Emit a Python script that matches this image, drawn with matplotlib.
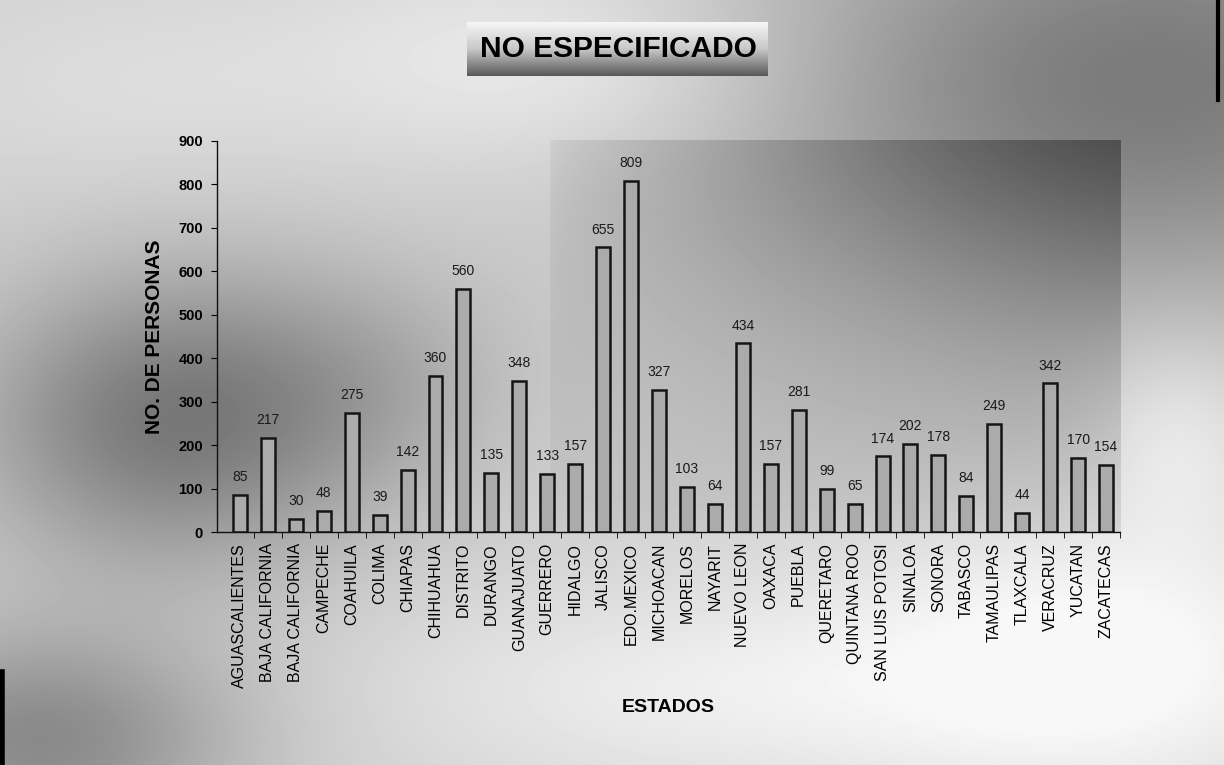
import numpy as np
import matplotlib
matplotlib.use("Agg")
import matplotlib.pyplot as plt
from matplotlib.colors import LinearSegmentedColormap

estados = ["AGUASCALIENTES", "BAJA CALIFORNIA", "BAJA CALIFORNIA", "CAMPECHE",
           "COAHUILA", "COLIMA", "CHIAPAS", "CHIHUAHUA", "DISTRITO", "DURANGO",
           "GUANAJUATO", "GUERRERO", "HIDALGO", "JALISCO", "EDO.MEXICO",
           "MICHOACAN", "MORELOS", "NAYARIT", "NUEVO LEON", "OAXACA", "PUEBLA",
           "QUERETARO", "QUINTANA ROO", "SAN LUIS POTOSI", "SINALOA", "SONORA",
           "TABASCO", "TAMAULIPAS", "TLAXCALA", "VERACRUZ", "YUCATAN", "ZACATECAS"]
personas = [85, 217, 30, 48, 275, 39, 142, 360, 560, 135, 348, 133, 157, 655,
            809, 327, 103, 64, 434, 157, 281, 99, 65, 174, 202, 178, 84, 249,
            44, 342, 170, 154]
y_ticks = [0, 100, 200, 300, 400, 500, 600, 700, 800, 900]

plt.rcParams['font.family'] = ['Liberation Sans', 'DejaVu Sans']

W, H = 1224, 765
fig = plt.figure(figsize=(W / 100, H / 100), dpi=100)

# Cloudy grey backdrop made from smooth light/dark patches
yy, xx = np.mgrid[0:H, 0:W].astype(float)


def blob(cx, cy, sx, sy, amp):
    return amp * np.exp(-(((xx - cx) / sx) ** 2 + ((yy - cy) / sy) ** 2))


shade = np.full((H, W), 0.82)
shade += blob(170, 420, 200, 150, -0.34)
shade += blob(380, 380, 150, 120, -0.10)
shade += blob(1150, 80, 420, 230, -0.34)
shade += blob(560, 60, 260, 110, 0.12)
shade += blob(700, 690, 320, 110, 0.10)
shade += blob(1100, 660, 260, 150, 0.16)
shade += blob(40, 740, 200, 110, -0.28)
shade += blob(120, 90, 200, 100, 0.04)
shade += blob(1180, 430, 90, 110, 0.10)

# slightly darker panel behind the right half of the plot area
panel = (xx >= 550) & (xx <= 1120) & (yy >= 140) & (yy <= 532)
panel_tone = -0.16 * np.clip((xx - 550) / 570, 0, 1) ** 0.5 * np.clip(1 - (yy - 140) / 560, 0, 1)
shade += np.where(panel, panel_tone - 0.03, 0)
shade = np.clip(shade, 0.30, 0.97)

bg = fig.add_axes([0, 0, 1, 1], zorder=0)
bg.imshow(shade, cmap="gray", vmin=0, vmax=1, aspect="auto",
          extent=[0, W, H, 0], interpolation="bilinear")
bg.set_xlim(0, W)
bg.set_ylim(H, 0)
bg.axis("off")

# Title plate with a vertical light-to-dark gradient
grad = LinearSegmentedColormap.from_list("plate", ["#f6f6f6", "#c8c8c8", "#5a5a5a"])
bg.imshow(np.linspace(0, 1, 60)[:, None], cmap=grad, aspect="auto",
          extent=[467, 768, 76, 22], zorder=2)
bg.text(618, 49, "NO ESPECIFICADO", ha="center", va="center",
        fontsize=21.5, fontweight="bold", color="black", zorder=3)
bg.plot([1218, 1218], [0, 100], color="black", lw=3, zorder=3)
bg.plot([2, 2], [672, 765], color="black", lw=4, zorder=3)

ax = fig.add_axes([217 / W, 1 - 532 / H, (1120 - 217) / W, (532 - 141) / H], zorder=1)
ax.patch.set_alpha(0)

x = np.arange(len(estados))
ax.bar(x, personas, width=0.5, color="#ababab",
       edgecolor="#151515", linewidth=1.8)
for xi, v in zip(x, personas):
    ax.text(xi, v + 25, str(v), ha="center", va="bottom", fontsize=10,
            color="#1a1a1a")

ax.set_xlim(-0.82, len(estados) - 0.5)
ax.set_ylim(0, 900)
ax.set_yticks(y_ticks)
ax.set_yticklabels([str(t) for t in y_ticks], fontsize=10.5, fontweight="bold")
ax.set_xticks(x)
ax.set_xticklabels(estados, rotation=90, fontsize=11.5)
ax.tick_params(axis="x", length=0, pad=8)
ax.set_xticks(np.arange(len(estados)) + 0.5, minor=True)
ax.tick_params(axis="x", which="minor", length=4, direction="out")
ax.tick_params(axis="y", length=4, direction="out", pad=6)
for side in ("top", "right"):
    ax.spines[side].set_visible(False)
for side in ("left", "bottom"):
    ax.spines[side].set_color("#111111")
    ax.spines[side].set_linewidth(1.0)

ax.set_ylabel("NO. DE PERSONAS", fontsize=15, fontweight="bold", labelpad=10)
ax.set_xlabel("ESTADOS", fontsize=14, fontweight="bold", labelpad=8)

fig.savefig("out.png", dpi=100)
